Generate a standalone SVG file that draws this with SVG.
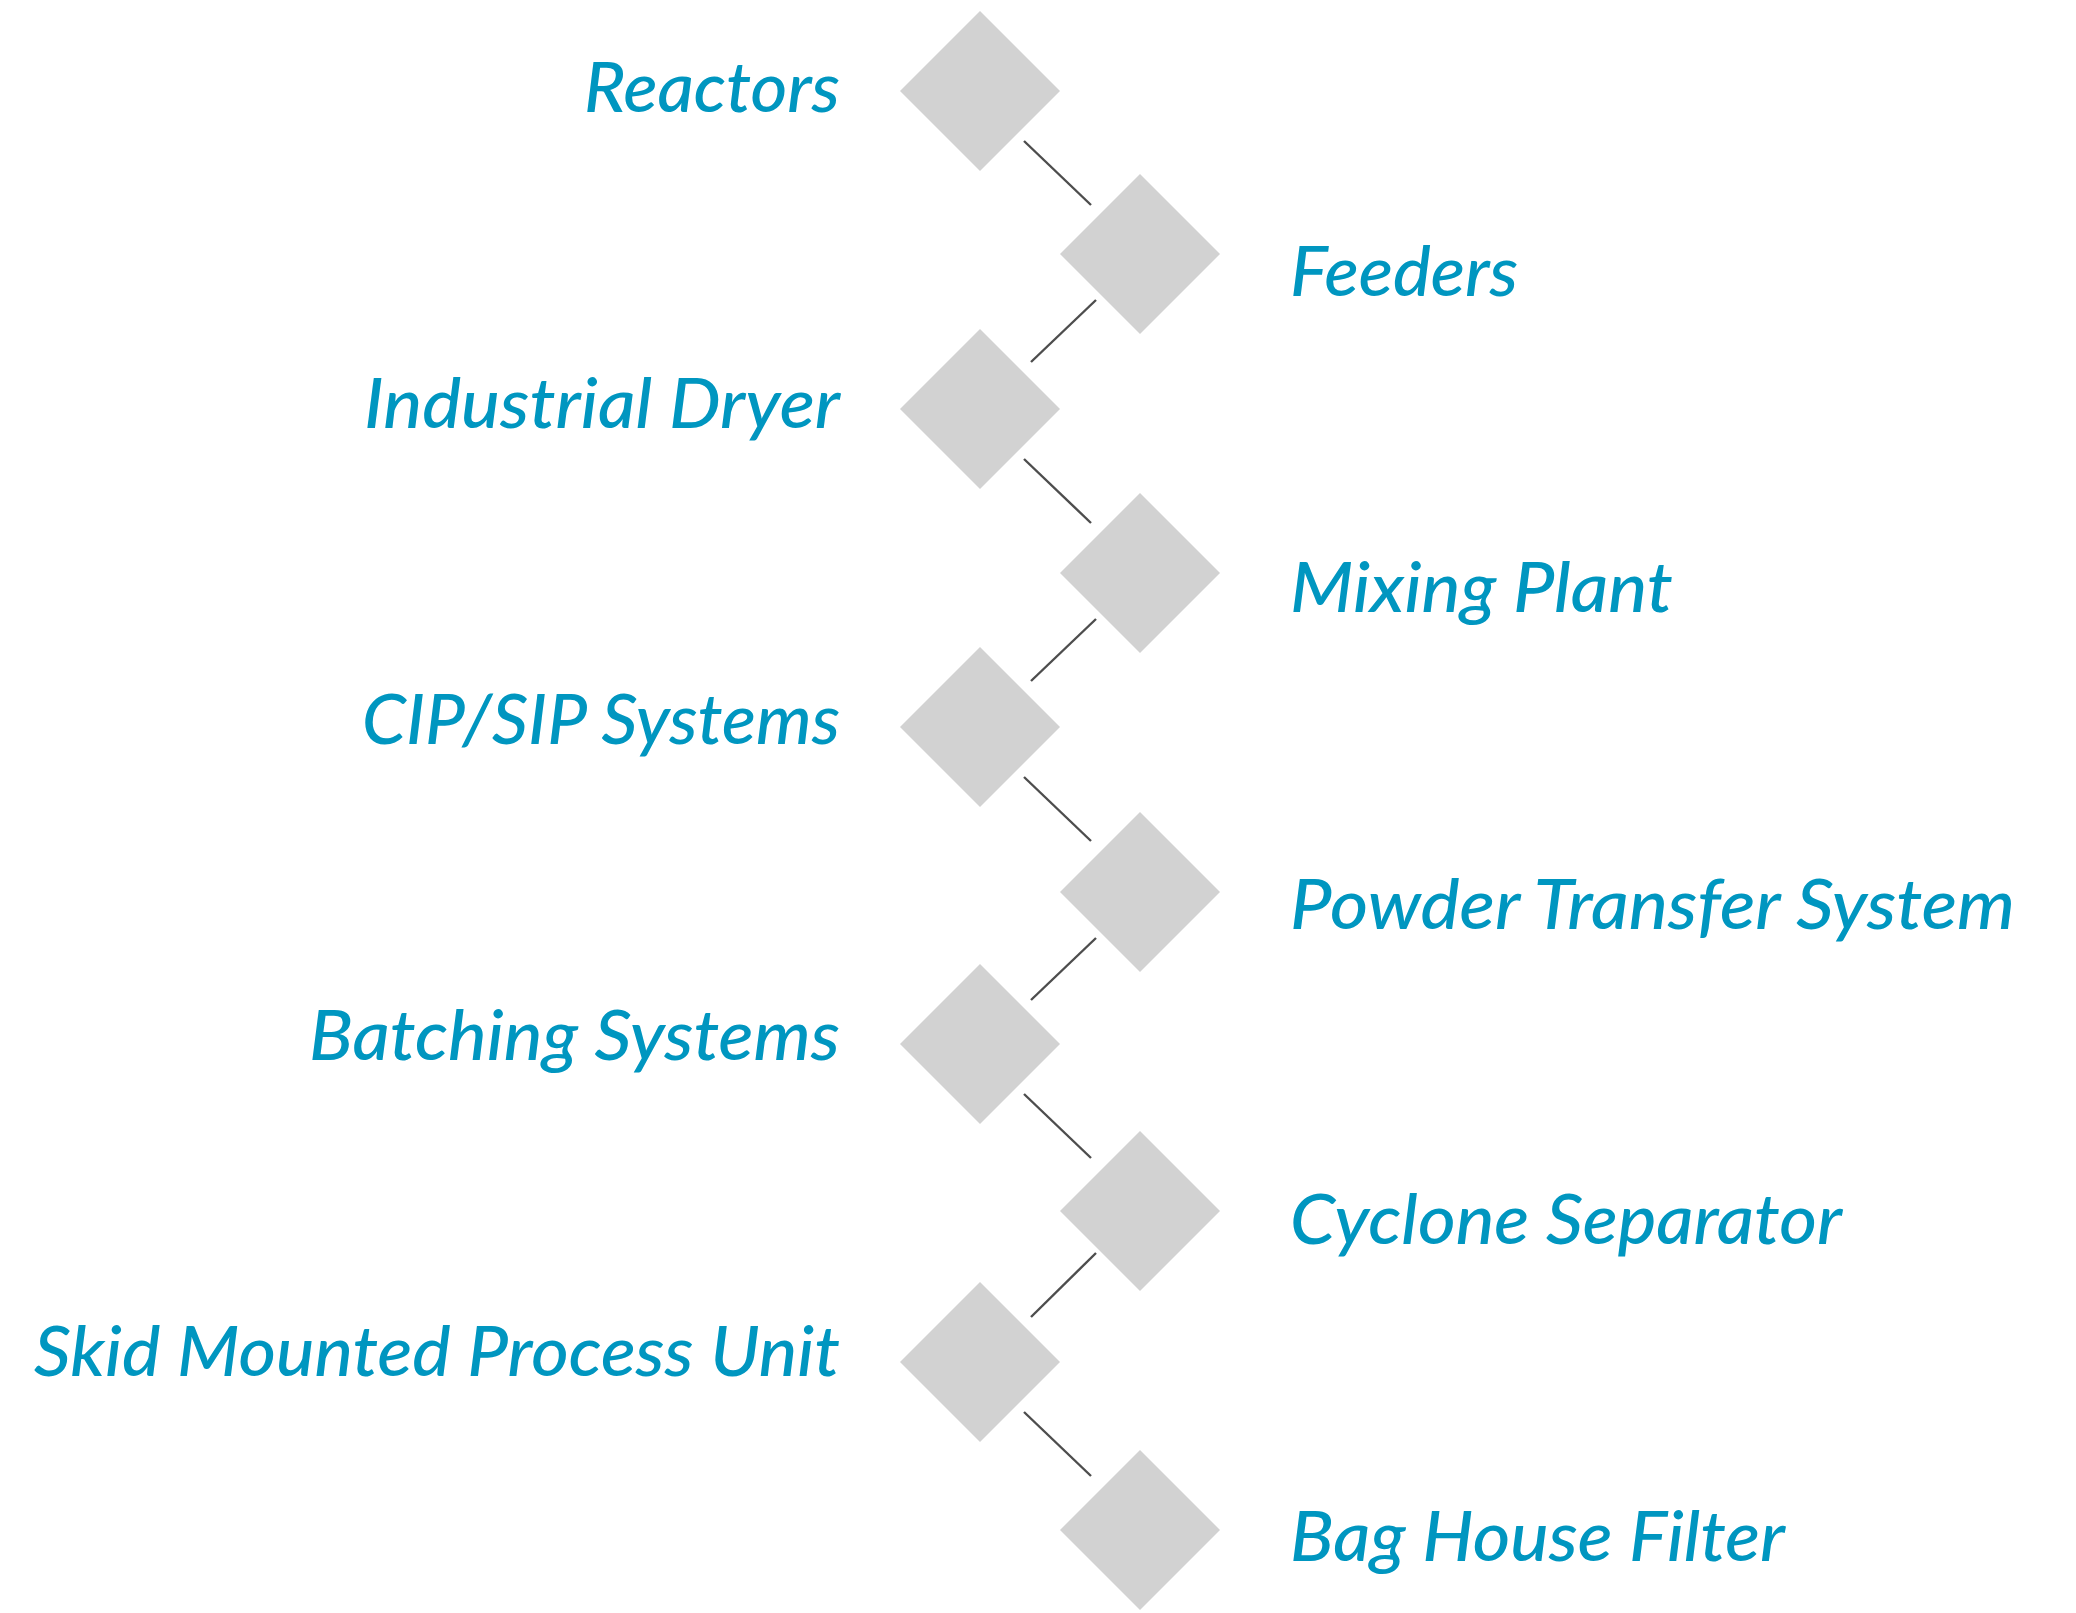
<svg xmlns="http://www.w3.org/2000/svg" width="2076" height="1613" viewBox="0 0 2076 1613">
<style>
.d{fill:#d2d2d2}
.c{stroke:#4d4d4d;stroke-width:2.4;fill:none}
.t{font-family:Lato,"Open Sans","Noto Sans",sans-serif;font-style:italic;font-weight:500;font-size:69px;fill:#0096c0}
.l{text-anchor:end}
</style>
<defs>
<polygon id="dia" points="0,-80 80,0 0,80 -80,0"/>
</defs>
<rect width="2076" height="1613" fill="#fff"/>
<g id="connectors">
<line class="c" x1="1024" y1="141" x2="1091" y2="205"/>
<line class="c" x1="1096" y1="300" x2="1031" y2="362"/>
<line class="c" x1="1024" y1="459" x2="1091" y2="523"/>
<line class="c" x1="1096" y1="619" x2="1031" y2="681"/>
<line class="c" x1="1024" y1="777" x2="1091" y2="841"/>
<line class="c" x1="1096" y1="938" x2="1031" y2="1000"/>
<line class="c" x1="1024" y1="1094" x2="1091" y2="1158"/>
<line class="c" x1="1096" y1="1253" x2="1031" y2="1317"/>
<line class="c" x1="1024" y1="1412" x2="1091" y2="1476"/>
</g>
<g id="n1"><use href="#dia" class="d" x="980" y="91"/><text class="t l" x="840" y="112" textLength="256" lengthAdjust="spacingAndGlyphs">Reactors</text></g>
<g id="n2"><use href="#dia" class="d" x="1140" y="254"/><text class="t" x="1290" y="296" textLength="228" lengthAdjust="spacingAndGlyphs">Feeders</text></g>
<g id="n3"><use href="#dia" class="d" x="980" y="409"/><text class="t l" x="840" y="428" textLength="476" lengthAdjust="spacingAndGlyphs">Industrial Dryer</text></g>
<g id="n4"><use href="#dia" class="d" x="1140" y="573"/><text class="t" x="1290" y="612" textLength="383" lengthAdjust="spacingAndGlyphs">Mixing Plant</text></g>
<g id="n5"><use href="#dia" class="d" x="980" y="727"/><text class="t l" x="840" y="744" textLength="478" lengthAdjust="spacingAndGlyphs">CIP/SIP Systems</text></g>
<g id="n6"><use href="#dia" class="d" x="1140" y="892"/><text class="t" x="1290" y="929" textLength="725" lengthAdjust="spacingAndGlyphs">Powder Transfer System</text></g>
<g id="n7"><use href="#dia" class="d" x="980" y="1044"/><text class="t l" x="840" y="1060" textLength="531" lengthAdjust="spacingAndGlyphs">Batching Systems</text></g>
<g id="n8"><use href="#dia" class="d" x="1140" y="1211"/><text class="t" x="1290" y="1244" textLength="552" lengthAdjust="spacingAndGlyphs">Cyclone Separator</text></g>
<g id="n9"><use href="#dia" class="d" x="980" y="1362"/><text class="t l" x="840" y="1376" textLength="806" lengthAdjust="spacingAndGlyphs">Skid Mounted Process Unit</text></g>
<g id="n10"><use href="#dia" class="d" x="1140" y="1530"/><text class="t" x="1290" y="1561" textLength="495" lengthAdjust="spacingAndGlyphs">Bag House Filter</text></g>
</svg>
